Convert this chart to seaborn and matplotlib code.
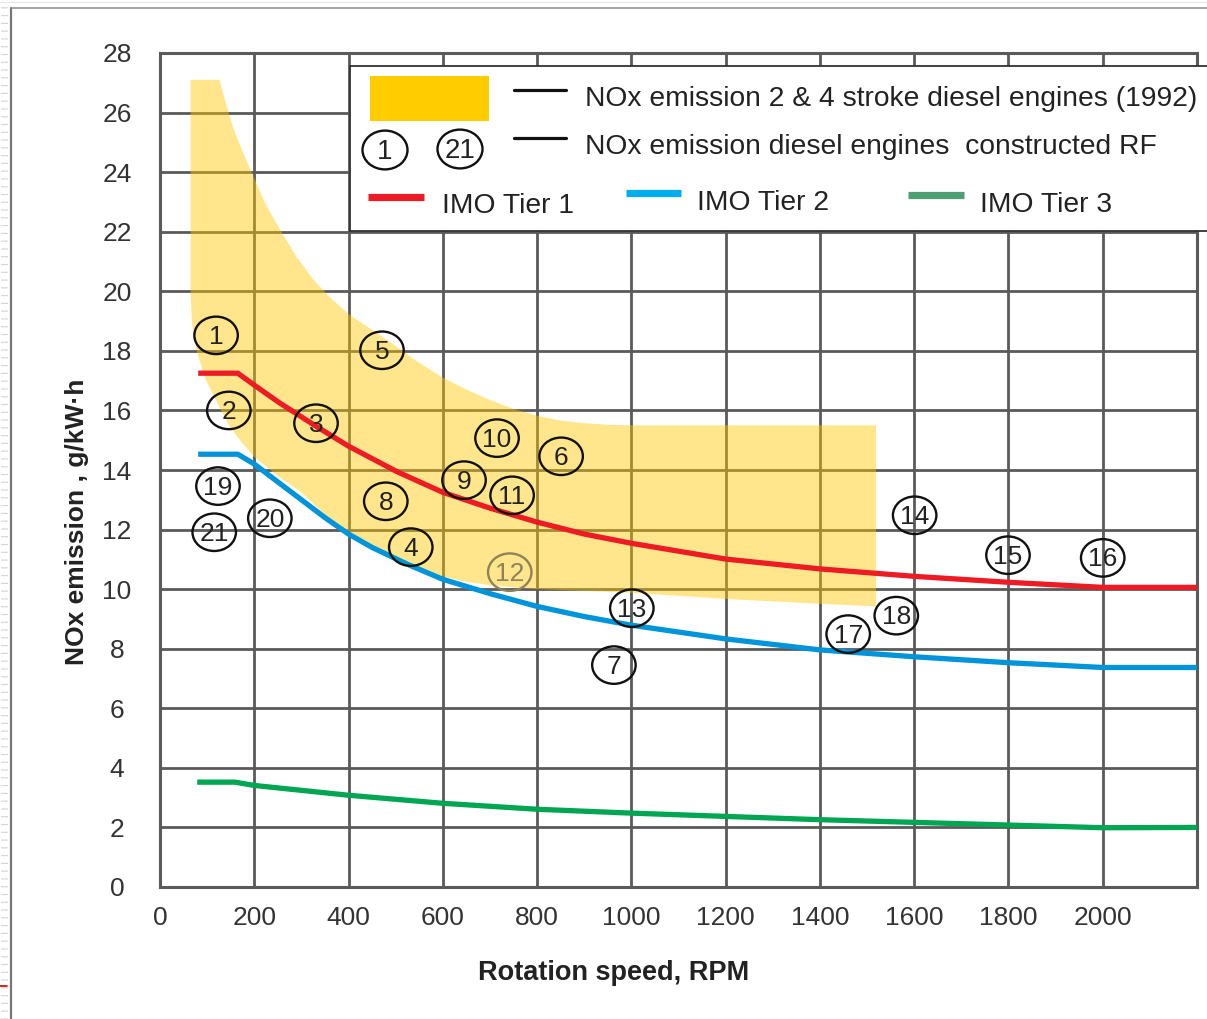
import numpy as np
import pandas as pd
import matplotlib
matplotlib.use("Agg")
import matplotlib.pyplot as plt
import seaborn as sns
from matplotlib.path import Path
from matplotlib.lines import Line2D
from matplotlib.patches import Rectangle

# ---------------- data ----------------
engine_ids = [str(i) for i in range(1, 22)]
engine_rpm = [119, 146, 331, 532, 471, 851, 963, 479, 645, 715, 747,
              742, 1001, 1601, 1799, 2000, 1460, 1562, 123, 233, 115]
engine_nox = [18.52, 16.0, 15.57, 11.41, 18.02, 14.46, 7.45, 12.95, 13.66, 15.07, 13.15,
              10.57, 9.36, 12.48, 11.14, 11.05, 8.49, 9.11, 13.46, 12.38, 11.91]
engine_faded = [False] * 11 + [True] + [False] * 9

tier1_rpm = [81, 165, 200, 254, 333, 400, 502, 600, 700, 800, 900, 1000,
             1200, 1400, 1600, 1800, 2000, 2205]
tier1_nox = [17.25, 17.25, 16.85, 16.25, 15.45, 14.8, 13.95, 13.25, 12.72, 12.25, 11.85, 11.54,
             11.01, 10.68, 10.43, 10.23, 10.06, 10.06]

tier2_rpm = [81, 165, 200, 254, 300, 350, 400, 450, 530, 600, 700, 800, 900, 1000,
             1200, 1400, 1600, 1800, 2000, 2205]
tier2_nox = [14.53, 14.53, 14.2, 13.55, 13.0, 12.4, 11.85, 11.4, 10.8, 10.33, 9.85, 9.42, 9.08, 8.79,
             8.33, 7.96, 7.73, 7.53, 7.37, 7.37]

tier3_rpm = [79, 159, 200, 400, 600, 800, 1000, 1200, 1400, 1600, 1800, 2000, 2205]
tier3_nox = [3.52, 3.52, 3.41, 3.08, 2.81, 2.61, 2.48, 2.37, 2.26, 2.17, 2.08, 1.99, 2.0]

band_upper_rpm = [65, 126, 140, 155, 175, 194, 225, 261, 290, 325, 360, 403, 450, 488,
                  540, 600, 650, 700, 750, 800, 850, 900, 950, 1000, 1519]
band_upper_nox = [27.1, 27.1, 26.3, 25.5, 24.7, 24.0, 22.9, 21.9, 21.15, 20.4, 19.8, 19.2, 18.7, 18.3,
                  17.7, 17.1, 16.7, 16.35, 16.05, 15.82, 15.66, 15.57, 15.52, 15.5, 15.5]
band_lower_rpm = [65, 65, 68, 78, 95, 120, 148, 175, 200, 250, 300, 350, 400, 450, 500,
                  550, 600, 650, 700, 800, 900, 1000, 1200, 1400, 1519]
band_lower_nox = [27.1, 19.9, 18.9, 18.0, 17.1, 16.3, 15.45, 14.9, 14.44, 13.8, 13.25, 12.5, 11.85,
                  11.4, 11.05, 10.72, 10.42, 10.25, 10.13, 10.0, 9.94, 9.88, 9.67, 9.51, 9.42]

x_ticks = [0, 200, 400, 600, 800, 1000, 1200, 1400, 1600, 1800, 2000]
x_grid = list(range(0, 2201, 200))
y_ticks = list(range(0, 29, 2))

legend_band_label = "NOx emission 2 & 4 stroke diesel engines (1992)"
legend_points_label = "NOx emission diesel engines  constructed RF"
tier_labels = ["IMO Tier 1", "IMO Tier 2", "IMO Tier 3"]

# ---------------- style ----------------
sns.set_style("white")
plt.rcParams['font.family'] = ['Liberation Sans', 'DejaVu Sans']

W, H = 1207, 1019
fig = plt.figure(figsize=(W / 100, H / 100), dpi=100)
ax = fig.add_axes([160 / W, 1 - 887 / H, 1037 / W, 834 / H])

GRID = "#5a5a5a"
RED, BLUE, GREEN = "#ED1C24", "#0095DA", "#00A651"
GOLD = "#FFC800"

ax.set_xlim(0, 2200)
ax.set_ylim(0, 28)
ax.set_xticks(x_grid)
ax.set_xticklabels([str(v) if v in x_ticks else "" for v in x_grid])
ax.set_yticks(y_ticks)
ax.grid(True, color=GRID, linewidth=2.0)
ax.set_axisbelow(True)
for sp in ax.spines.values():
    sp.set_color(GRID)
    sp.set_linewidth(2.2)
ax.tick_params(axis='both', length=0, labelsize=19, labelcolor="#333333")
ax.tick_params(axis='x', pad=14)
ax.tick_params(axis='y', pad=31)
for lab in ax.get_yticklabels():
    lab.set_horizontalalignment('center')

# 1992 band
poly_x = band_upper_rpm + band_lower_rpm[::-1]
poly_y = band_upper_nox + band_lower_nox[::-1]
ax.fill(poly_x, poly_y, color=GOLD, alpha=0.45, linewidth=0, zorder=1)

# IMO tiers
for xs, ys, c in [(tier1_rpm, tier1_nox, RED), (tier2_rpm, tier2_nox, BLUE), (tier3_rpm, tier3_nox, GREEN)]:
    sns.lineplot(x=xs, y=ys, color=c, linewidth=3.8, sort=False, estimator=None,
                 ax=ax, zorder=3, solid_capstyle='butt', solid_joinstyle='round')

# engine points: ellipse markers with numbers
circ = Path.unit_circle()
ell = Path(circ.vertices * np.array([1.16, 1.0]), circ.codes)
edge_cols = ["#8F8158" if f else "#111111" for f in engine_faded]
df = pd.DataFrame({"rpm": engine_rpm, "nox": engine_nox})
sns.scatterplot(data=df, x="rpm", y="nox", marker=ell, s=980, facecolor="none",
                edgecolor=edge_cols, linewidth=1.7, legend=False, ax=ax, zorder=4)
for lab, xv, yv, f in zip(engine_ids, engine_rpm, engine_nox, engine_faded):
    ax.text(xv, yv - 0.05, lab, ha='center', va='center', fontsize=19,
            color="#8F8158" if f else "#222222", zorder=5)

ax.set_xlabel("Rotation speed, RPM", fontsize=19.5, fontweight='bold', color="#222222")
ax.set_ylabel("NOx emission , g/kW·h", fontsize=19, fontweight='bold', color="#222222")
ax.xaxis.set_label_coords(0.4378, -0.088)
ax.yaxis.set_label_coords(-0.068, 0.4376)


# ---------------- legend (drawn in axes fraction) ----------------
def ax_pt(px, py):
    return ((px - 160) / 1037, (887 - py) / 834)


T = ax.transAxes
x0, y0 = ax_pt(350, 231)
x1, y1 = ax_pt(1240, 66)
ax.add_patch(Rectangle((x0, y0), x1 - x0, y1 - y0, transform=T, facecolor='white',
                       edgecolor="#333333", linewidth=1.3, zorder=6, clip_on=False))
gx0, gy0 = ax_pt(370, 121)
gx1, gy1 = ax_pt(489, 76)
ax.add_patch(Rectangle((gx0, gy0), gx1 - gx0, gy1 - gy0, transform=T, facecolor="#FFCC00",
                       edgecolor='none', zorder=7, clip_on=False))
for yy in (90, 138):
    a, b = ax_pt(514, yy)
    c, _ = ax_pt(566, yy)
    ax.add_line(Line2D([a, c], [b, b], transform=T, color="#111111", linewidth=2.3,
                       zorder=7, clip_on=False))
tx, ty = ax_pt(585, 106)
ax.text(tx, ty, legend_band_label, transform=T, fontsize=20.3, color="#222222",
        va='baseline', ha='left', zorder=8, clip_on=False)
tx, ty = ax_pt(585, 154)
ax.text(tx, ty, legend_points_label, transform=T, fontsize=20.3, color="#222222",
        va='baseline', ha='left', zorder=8, clip_on=False)
for lab, px, py in [("1", 385, 150), ("21", 460, 149)]:
    a, b = ax_pt(px, py)
    ax.scatter([a], [b], transform=T, marker=ell, s=1050, facecolor='none',
               edgecolor="#111111", linewidth=1.7, zorder=8, clip_on=False)
    ax.text(a, b - 0.002, lab, transform=T, ha='center', va='center', fontsize=20,
            color="#222222", zorder=9, clip_on=False)
for lab, c, lx0, lx1, ly, tx0, tbase in [
        (tier_labels[0], "#ED1C24", 368, 424, 197, 442, 213),
        (tier_labels[1], "#00AEEF", 626, 681, 193, 697, 210),
        (tier_labels[2], "#4E9F72", 908, 964, 195, 980, 212)]:
    a, b = ax_pt(lx0, ly)
    cc, _ = ax_pt(lx1, ly)
    ax.add_line(Line2D([a, cc], [b, b], transform=T, color=c, linewidth=5.2,
                       solid_capstyle='butt', zorder=7, clip_on=False))
    t1, t2 = ax_pt(tx0, tbase)
    ax.text(t1, t2, lab, transform=T, fontsize=20.3, color="#222222",
            va='baseline', ha='left', zorder=8, clip_on=False)

# ---------------- slide frame decorations ----------------
fig.add_artist(Line2D([11 / W, 11 / W], [0, 1 - 8 / H], color="#777777", linewidth=1.6))
fig.add_artist(Line2D([11 / W, 1], [1 - 7.5 / H, 1 - 7.5 / H], color="#8a8a8a", linewidth=1.1))
fig.add_artist(Line2D([0, 1], [1 - 1.5 / H, 1 - 1.5 / H], color="#e6e6e6", linewidth=0.8))
fig.add_artist(Line2D([3.5 / W, 3.5 / W], [0, 1], color="#d4d4d4", linewidth=5,
                      dashes=(0.16, 0.96)))
fig.add_artist(Line2D([0, 7 / W], [1 - 986 / H, 1 - 986 / H], color="#cc0000", linewidth=1.2))

fig.savefig("out.png", dpi=100)
